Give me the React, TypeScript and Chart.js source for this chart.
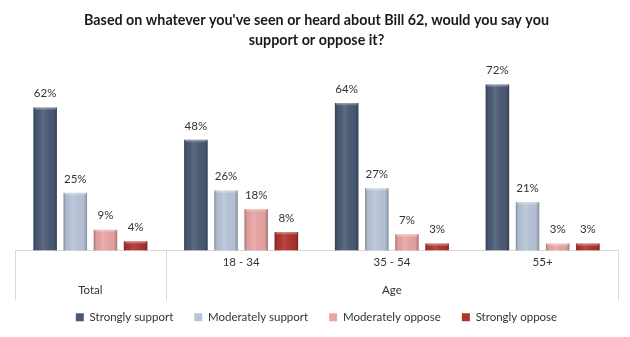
import React, { useEffect, useRef } from "react";
import { Chart, registerables } from "chart.js";

Chart.register(...registerables);

// ---- data ----
const subLabels = ["", "18 - 34", "35 - 54", "55+"];
const groupLabels = ["Total", "", "Age", ""];
const seriesNames = ["Strongly support", "Moderately support", "Moderately oppose", "Strongly oppose"];
const stronglySupport = [62, 48, 64, 72];
const moderatelySupport = [25, 26, 27, 21];
const moderatelyOppose = [9, 18, 7, 3];
const stronglyOppose = [4, 8, 3, 3];
const titleLines = [
  "Based on whatever you've seen or heard about Bill 62, would you say you",
  "support or oppose it?",
];

const seriesColors = ["#4a5a74", "#b8c5d9", "#e9a5a3", "#b0332d"];
const FONT = "Lato, 'Liberation Sans', Arial, sans-serif";

const barShade = {
  id: "barShade",
  afterDatasetsDraw(chart: any) {
    const ctx = chart.ctx;
    chart.data.datasets.forEach((_: any, di: number) => {
      const meta = chart.getDatasetMeta(di);
      meta.data.forEach((el: any) => {
        const left = el.x - el.width / 2;
        const top = Math.min(el.y, el.base);
        const h = Math.abs(el.base - el.y);
        if (h <= 0) return;
        const g = ctx.createLinearGradient(left, 0, left + el.width, 0);
        g.addColorStop(0, "rgba(0,0,0,0.28)");
        g.addColorStop(0.12, "rgba(0,0,0,0.05)");
        g.addColorStop(0.4, "rgba(255,255,255,0.10)");
        g.addColorStop(0.85, "rgba(0,0,0,0.03)");
        g.addColorStop(1, "rgba(0,0,0,0.28)");
        ctx.save();
        ctx.fillStyle = g;
        ctx.fillRect(left, top, el.width, h);
        const hh = Math.min(3, h / 2);
        const g2 = ctx.createLinearGradient(0, top, 0, top + hh);
        g2.addColorStop(0, "rgba(255,255,255,0.45)");
        g2.addColorStop(1, "rgba(255,255,255,0)");
        ctx.fillStyle = g2;
        ctx.fillRect(left + 1, top, el.width - 2, hh);
        ctx.restore();
      });
    });
  },
};

const valueLabels = {
  id: "valueLabels",
  afterDatasetsDraw(chart: any) {
    const ctx = chart.ctx;
    ctx.save();
    ctx.font = `11.5px ${FONT}`;
    ctx.fillStyle = "#333333";
    ctx.textAlign = "center";
    ctx.textBaseline = "middle";
    chart.data.datasets.forEach((ds: any, di: number) => {
      const meta = chart.getDatasetMeta(di);
      meta.data.forEach((el: any, i: number) => {
        ctx.fillText(ds.data[i] + "%", el.x, el.y - 14);
      });
    });
    ctx.restore();
  },
};

const separators = {
  id: "separators",
  afterLayout(chart: any) {
    // let the two-line category labels extend below the axis box (into the legend's top padding)
    const x = chart.scales.x;
    x.bottom = x.top + 56;
  },
  afterDraw(chart: any) {
    const { ctx, chartArea, scales } = chart;
    const x = scales.x;
    const mid = (x.getPixelForValue(0) + x.getPixelForValue(1)) / 2;
    const xs = [chartArea.left, mid, chartArea.right];
    ctx.save();
    ctx.strokeStyle = "#d9d9d9";
    ctx.lineWidth = 1;
    xs.forEach((px) => {
      const p = Math.round(px) + 0.5;
      ctx.beginPath();
      ctx.moveTo(p, chartArea.bottom);
      ctx.lineTo(p, chartArea.bottom + 50);
      ctx.stroke();
    });
    ctx.restore();
  },
};

export default function App() {
  const ref = useRef<HTMLCanvasElement | null>(null);
  useEffect(() => {
    if (!ref.current) return;
    const values = [stronglySupport, moderatelySupport, moderatelyOppose, stronglyOppose];
    const chart = new Chart(ref.current, {
      type: "bar",
      data: {
        labels: subLabels.map((s, i) => [s, groupLabels[i]]),
        datasets: seriesNames.map((name, i) => ({
          label: name,
          data: values[i],
          backgroundColor: seriesColors[i],
          borderWidth: 0,
          categoryPercentage: 0.8,
          barPercentage: 0.78,
        })),
      },
      options: {
        responsive: true,
        maintainAspectRatio: false,
        animation: false,
        layout: { padding: { left: 15, right: 12, bottom: 4 } },
        scales: {
          x: {
            grid: { display: false, drawTicks: false },
            border: { display: true, color: "#d9d9d9" },
            ticks: {
              color: "#333333",
              font: { family: FONT, size: 11.5, lineHeight: 28 / 11.5 },
              padding: -2,
              maxRotation: 0,
              autoSkip: false,
            },
            afterFit: (scale: any) => {
              scale.height = 40;
            },
          },
          y: { display: false, min: 0, max: 80 },
        },
        plugins: {
          title: {
            display: true,
            text: titleLines,
            color: "#1a1a1a",
            font: { family: FONT, size: 14.3, weight: "bold", lineHeight: 20 / 14.3 },
            padding: { top: 10, bottom: 16 },
          },
          legend: {
            position: "bottom",
            labels: {
              boxWidth: 8,
              boxHeight: 8,
              padding: 21,
              color: "#333333",
              font: { family: FONT, size: 11.5 },
            },
          },
          tooltip: { enabled: false },
        },
      },
      plugins: [barShade, valueLabels, separators],
    });
    return () => chart.destroy();
  }, []);
  return (
    <div style={{ position: "absolute", left: 0, top: 0, width: 630, height: 337, background: "#fff" }}>
      <canvas ref={ref} />
    </div>
  );
}
